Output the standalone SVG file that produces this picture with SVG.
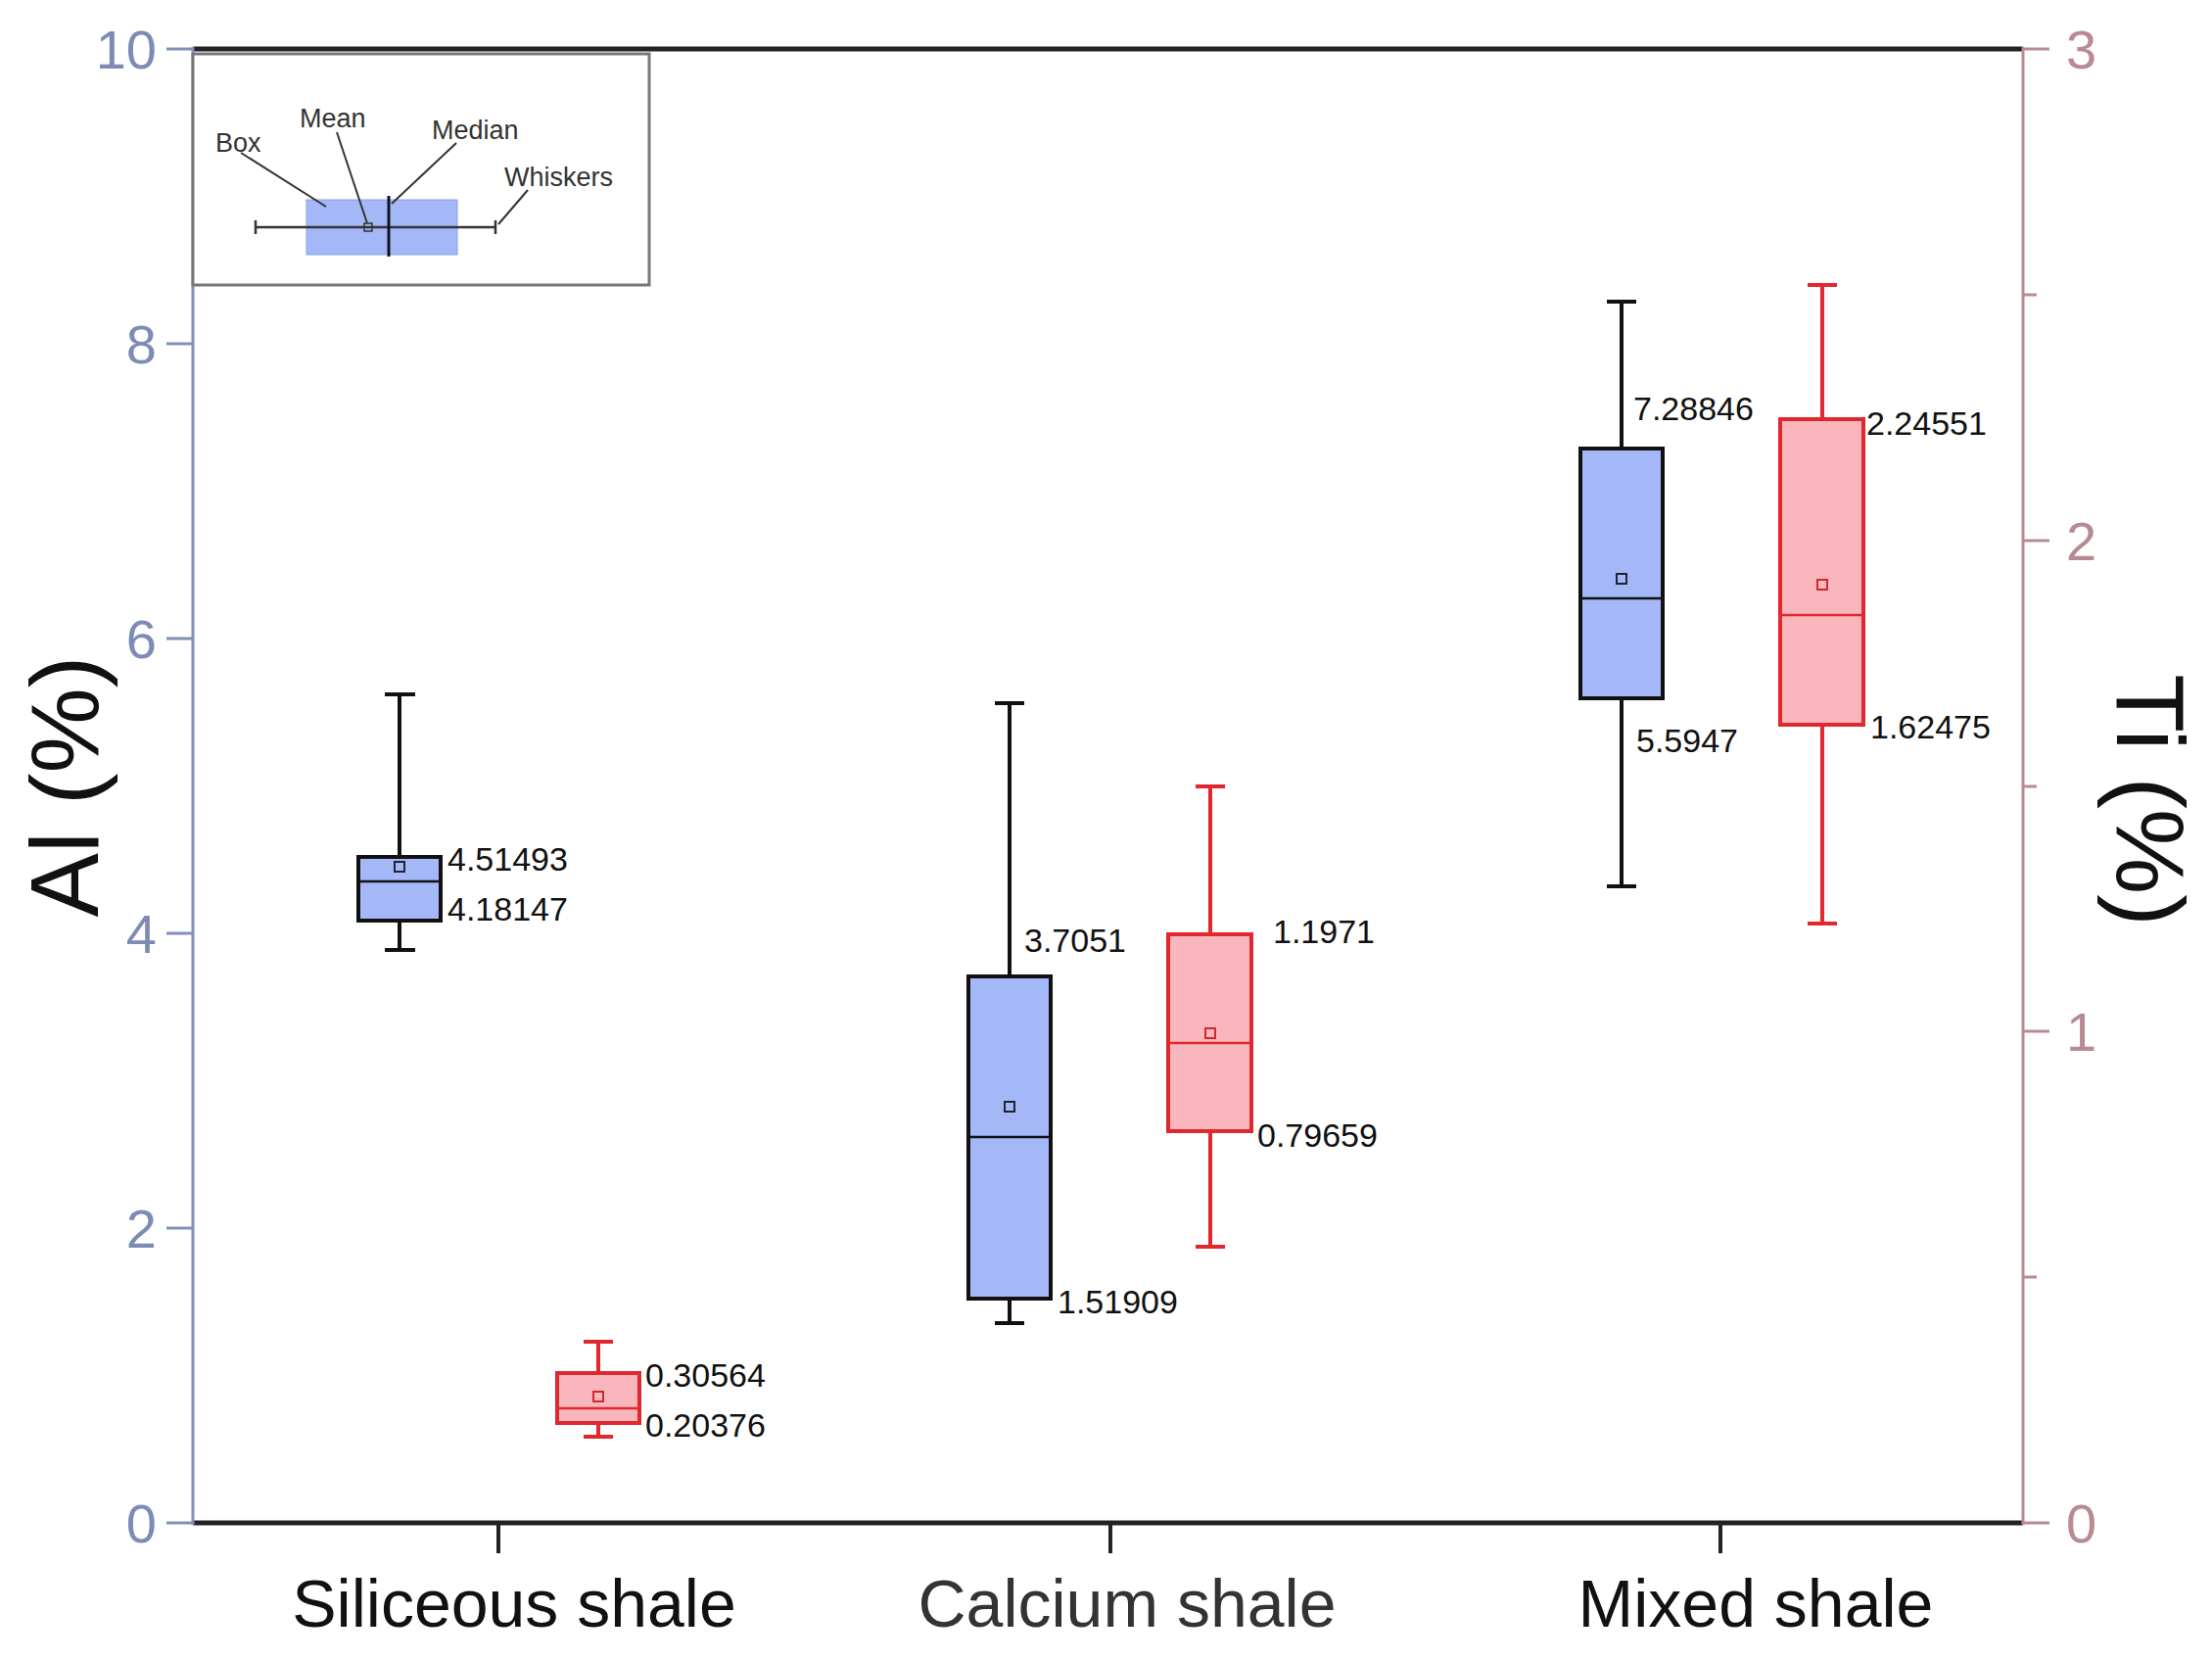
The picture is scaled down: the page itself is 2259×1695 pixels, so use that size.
<svg xmlns="http://www.w3.org/2000/svg" width="2259" height="1695" viewBox="0 0 2259 1695">
<style>
text{font-family:"Liberation Sans",Arial,sans-serif}
.al{fill:#a4b8f8;stroke:#111;stroke-width:4}
.alw{stroke:#111;stroke-width:4;fill:none}
.ti{fill:#f9b6bc;stroke:#e0282e;stroke-width:4}
.tiw{stroke:#e0282e;stroke-width:4;fill:none}
.mal{fill:none;stroke:#223;stroke-width:2}
.mti{fill:none;stroke:#d0282e;stroke-width:2}
.v{font-size:34px;fill:#111}
.ly{font-size:56px;fill:#7d8bb5}
.ry{font-size:56px;fill:#b88a92}
.cat{font-size:68px;fill:#111;text-anchor:middle}
.ins{font-size:27px;fill:#333}
</style>
<rect width="2259" height="1695" fill="#fff"/>
<g id="axes">
<line x1="197" y1="50" x2="2066" y2="50" stroke="#222" stroke-width="5"/>
<line x1="197" y1="1555" x2="2066" y2="1555" stroke="#222" stroke-width="5"/>
<line x1="197" y1="48" x2="197" y2="1557" stroke="#8090b8" stroke-width="3"/>
<line x1="2066" y1="48" x2="2066" y2="1557" stroke="#b88a92" stroke-width="3"/>
<g stroke="#8090b8" stroke-width="3">
<line x1="170" y1="50" x2="197" y2="50"/><line x1="170" y1="351" x2="197" y2="351"/><line x1="170" y1="652" x2="197" y2="652"/><line x1="170" y1="953" x2="197" y2="953"/><line x1="170" y1="1254" x2="197" y2="1254"/><line x1="170" y1="1555" x2="197" y2="1555"/>
</g>
<g class="ly" text-anchor="end">
<text x="160" y="70">10</text><text x="160" y="371">8</text><text x="160" y="672">6</text><text x="160" y="973">4</text><text x="160" y="1274">2</text><text x="160" y="1575">0</text>
</g>
<g stroke="#b88a92" stroke-width="3">
<line x1="2066" y1="50" x2="2093" y2="50"/><line x1="2066" y1="552" x2="2093" y2="552"/><line x1="2066" y1="1053" x2="2093" y2="1053"/><line x1="2066" y1="1555" x2="2093" y2="1555"/>
<line x1="2066" y1="301" x2="2080" y2="301"/><line x1="2066" y1="803" x2="2080" y2="803"/><line x1="2066" y1="1304" x2="2080" y2="1304"/>
</g>
<g class="ry">
<text x="2110" y="70">3</text><text x="2110" y="572">2</text><text x="2110" y="1073">1</text><text x="2110" y="1575">0</text>
</g>
<g stroke="#222" stroke-width="4">
<line x1="509" y1="1555" x2="509" y2="1586"/><line x1="1134" y1="1555" x2="1134" y2="1586"/><line x1="1757" y1="1555" x2="1757" y2="1586"/>
</g>
<text class="cat" x="525" y="1661">Siliceous shale</text>
<text class="cat" x="1151" y="1661" fill="#333" style="fill:#333">Calcium  shale</text>
<text class="cat" x="1793" y="1661">Mixed shale</text>
<text transform="translate(100,803) rotate(-90)" font-size="98" text-anchor="middle" fill="#111">Al (%)</text>
<text transform="translate(2162,817) rotate(90)" font-size="98" text-anchor="middle" fill="#111">Ti (%)</text>
</g>
<g id="legend">
<rect x="197" y="55" width="466" height="236" fill="#fff" stroke="#777" stroke-width="3"/>
<rect x="313" y="204" width="154" height="56" fill="#a4b8f8" stroke="#8aa0e8" stroke-width="1"/>
<line x1="261" y1="232" x2="506" y2="232" stroke="#333" stroke-width="2.5"/>
<line x1="261" y1="225" x2="261" y2="239" stroke="#333" stroke-width="2.5"/>
<line x1="506" y1="225" x2="506" y2="239" stroke="#333" stroke-width="2.5"/>
<line x1="397" y1="200" x2="397" y2="262" stroke="#112" stroke-width="3"/>
<rect x="372" y="228" width="8" height="8" fill="none" stroke="#333" stroke-width="1.5"/>
<g stroke="#333" stroke-width="2">
<line x1="246" y1="156" x2="333" y2="211"/><line x1="344" y1="135" x2="375" y2="228"/><line x1="466" y1="146" x2="400" y2="208"/><line x1="539" y1="194" x2="509" y2="229"/>
</g>
<text class="ins" x="220" y="155">Box</text>
<text class="ins" x="306" y="130" fill="#111">Mean</text>
<text class="ins" x="441" y="142" fill="#222">Median</text>
<text class="ins" x="515" y="190" fill="#555">Whiskers</text>
</g>
<g id="siliceous-al">
<path class="alw" d="M408 709V875M393 709H424M408 940V970M393 970H424"/>
<rect class="al" x="366" y="875" width="84" height="65"/>
<line x1="366" y1="900" x2="450" y2="900" stroke="#111" stroke-width="2.5"/>
<rect class="mal" x="403" y="880" width="10" height="10"/>
<text class="v" x="457" y="889">4.51493</text><text class="v" x="457" y="940">4.18147</text>
</g>
<g id="siliceous-ti">
<path class="tiw" d="M611 1370V1402M596 1370H626M611 1453V1467M596 1467H626"/>
<rect class="ti" x="569" y="1402" width="84" height="51"/>
<line x1="569" y1="1438" x2="653" y2="1438" stroke="#e0282e" stroke-width="2.5"/>
<rect class="mti" x="606" y="1421" width="10" height="10"/>
<text class="v" x="659" y="1416">0.30564</text><text class="v" x="659" y="1467">0.20376</text>
</g>
<g id="calcium-al">
<path class="alw" d="M1031 718V997M1016 1351H1046M1031 1326V1351"/>
<rect class="al" x="989" y="997" width="84" height="329"/>
<line x1="989" y1="1161" x2="1073" y2="1161" stroke="#111" stroke-width="2.5"/>
<rect class="mal" x="1026" y="1125" width="10" height="10"/>
<line x1="1016" y1="718" x2="1046" y2="718" stroke="#111" stroke-width="4"/>
<text class="v" x="1046" y="972">3.7051</text><text class="v" x="1080" y="1341">1.51909</text>
</g>
<g id="calcium-ti">
<path class="tiw" d="M1236 803V954M1221 803H1251M1236 1155V1273M1221 1273H1251"/>
<rect class="ti" x="1193" y="954" width="85" height="201"/>
<line x1="1193" y1="1065" x2="1278" y2="1065" stroke="#e0282e" stroke-width="2.5"/>
<rect class="mti" x="1231" y="1050" width="10" height="10"/>
<text class="v" x="1300" y="963">1.1971</text><text class="v" x="1284" y="1171">0.79659</text>
</g>
<g id="mixed-al">
<path class="alw" d="M1656 308V458M1641 308H1671M1656 713V905M1641 905H1671"/>
<rect class="al" x="1614" y="458" width="84" height="255"/>
<line x1="1614" y1="611" x2="1698" y2="611" stroke="#111" stroke-width="2.5"/>
<rect class="mal" x="1651" y="586" width="10" height="10"/>
<text class="v" x="1668" y="429">7.28846</text><text class="v" x="1671" y="768">5.5947</text>
</g>
<g id="mixed-ti">
<path class="tiw" d="M1861 291V428M1846 291H1876M1861 740V943M1846 943H1876"/>
<rect class="ti" x="1818" y="428" width="85" height="312"/>
<line x1="1818" y1="628" x2="1903" y2="628" stroke="#e0282e" stroke-width="2.5"/>
<rect class="mti" x="1856" y="592" width="10" height="10"/>
<text class="v" x="1906" y="444">2.24551</text><text class="v" x="1910" y="754">1.62475</text>
</g>
</svg>
